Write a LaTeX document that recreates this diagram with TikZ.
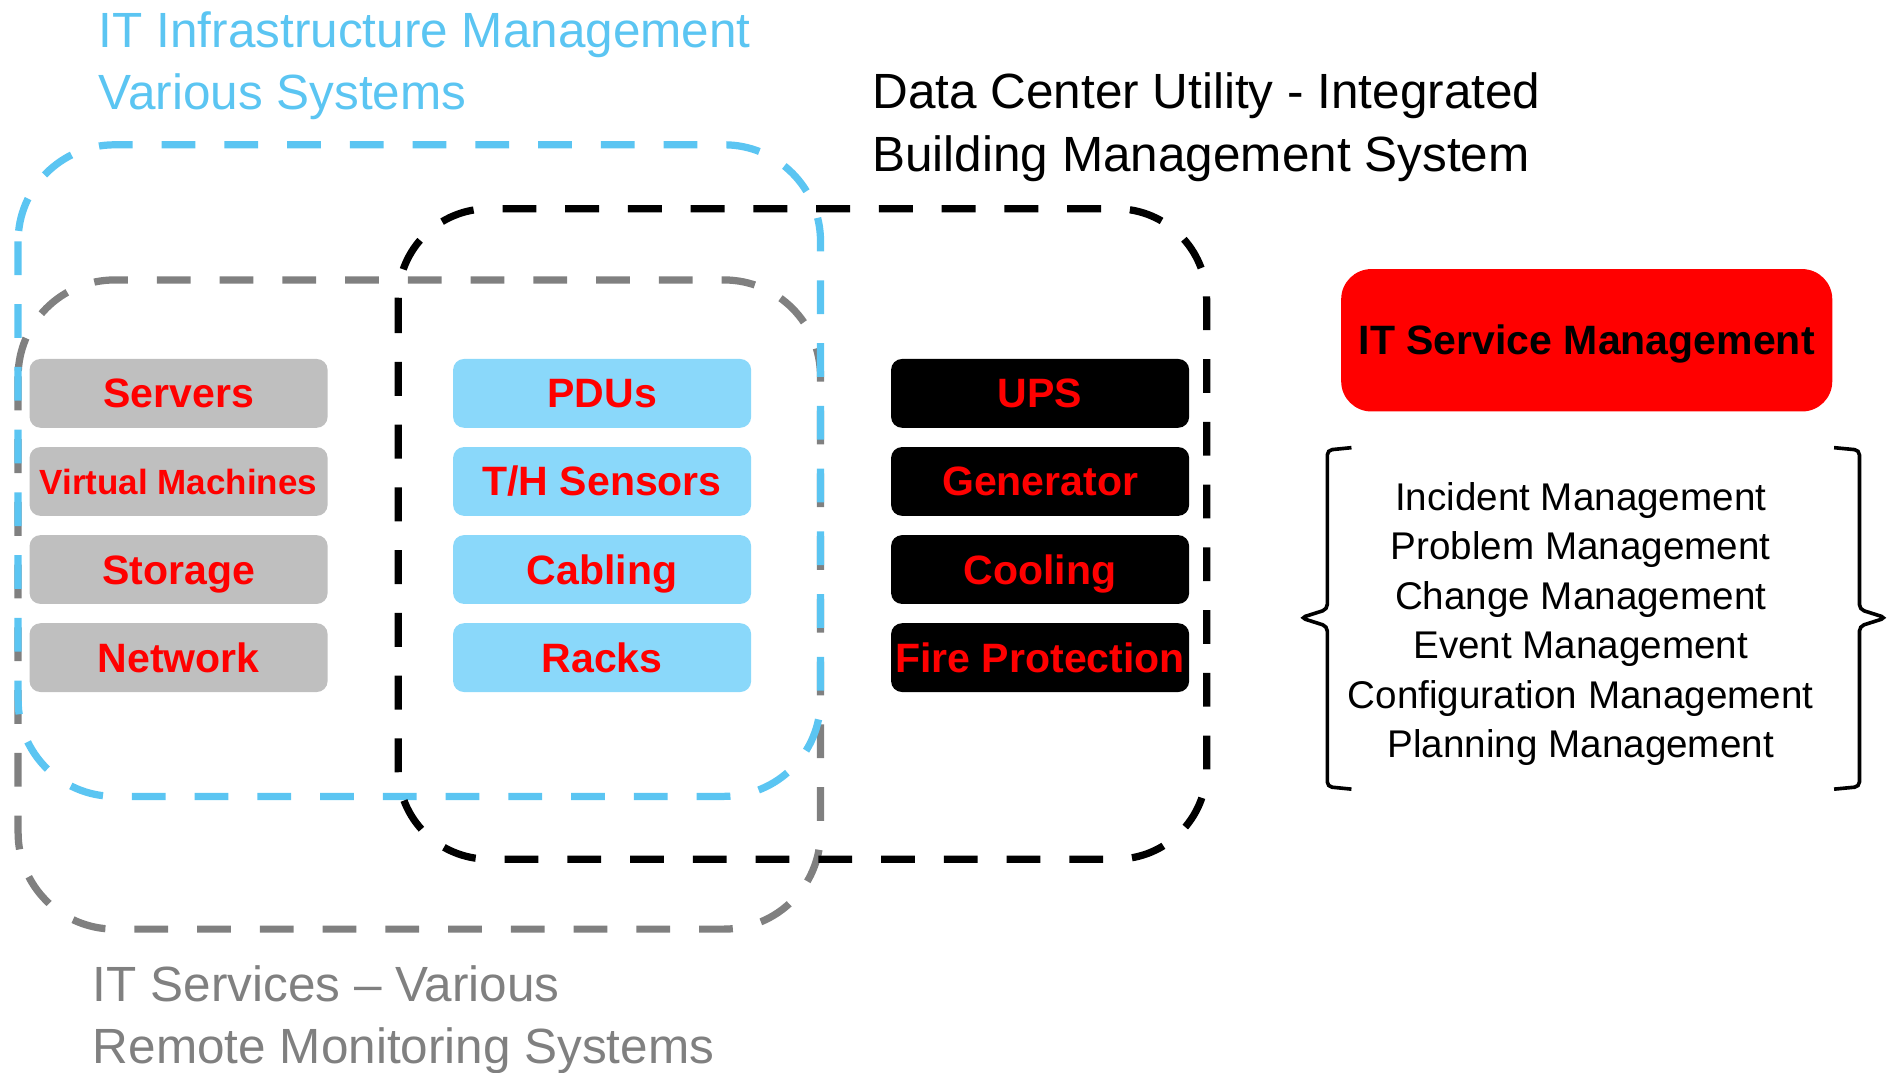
\documentclass[tikz,border=0pt]{standalone}
\usepackage{fontspec}
\setmainfont{Liberation Sans}
\usetikzlibrary{positioning}
\definecolor{infrablue}{RGB}{91,197,242}
\definecolor{rackblue}{RGB}{138,216,250}
\definecolor{svcgray}{RGB}{128,128,128}
\definecolor{boxgray}{RGB}{191,191,191}
\definecolor{itsmred}{RGB}{255,0,0}

\begin{document}
\begin{tikzpicture}[x=1pt,y=-1pt,every node/.style = {inner sep=0pt, outer sep=0pt}]

\tikzstyle{title}=[anchor=base west, font=\fontsize{41}{52}\selectfont]
\tikzstyle{item}=[rectangle, rounded corners=9pt, minimum width=247pt, minimum height=57pt,
                  text height=24pt, text depth=0pt, text=itsmred,
                  font=\fontsize{34}{40}\selectfont\bfseries]
\tikzstyle{zone}=[line width=6pt, dash pattern=on 28pt off 24pt, rounded corners=80pt]

\useasboundingbox (0,0) rectangle (1568,889);

\draw[zone, svcgray] (15,232) rectangle (680,770);
\draw[zone, infrablue] (15,120) rectangle (680,660);
\draw[zone, black, rounded corners=75pt] (330,173) rectangle (1000,712);

\node[title, text=infrablue] (infra1) at (82,39) {IT Infrastructure Management};
\node[title, text=infrablue] (infra2) at (82,91) {Various Systems};
\node[title] (dcu1) at (723,90) {Data Center Utility - Integrated};
\node[title] (dcu2) at (723,142) {Building Management System};
\node[title, text=svcgray] (svc1) at (77,830) {IT Services – Various};
\node[title, text=svcgray] (svc2) at (77,881) {Remote Monitoring Systems};

\node[item, fill=boxgray] (servers) at (148,326) {Servers};
\node[item, fill=boxgray, below=16pt of servers, text height=21pt,
      font=\fontsize{29}{34}\selectfont\bfseries] (vms) {Virtual Machines};
\node[item, fill=boxgray, below=16pt of vms] (storage) {Storage};
\node[item, fill=boxgray, below=16pt of storage] (network) {Network};

\node[item, fill=rackblue] (pdus) at (499,326) {PDUs};
\node[item, fill=rackblue, below=16pt of pdus] (sensors) {T/H Sensors};
\node[item, fill=rackblue, below=16pt of sensors] (cabling) {Cabling};
\node[item, fill=rackblue, below=16pt of cabling] (racks) {Racks};

\node[item, fill=black] (ups) at (862,326) {UPS};
\node[item, fill=black, below=16pt of ups] (generator) {Generator};
\node[item, fill=black, below=16pt of generator] (cooling) {Cooling};
\node[item, fill=black, below=16pt of cooling] (fire) {Fire Protection};

\node[item, fill=itsmred, text=black, minimum width=407pt, minimum height=118pt,
      rounded corners=25pt] (itsm) at (1315,282) {IT Service Management};

\node[font=\fontsize{32}{41}\selectfont, align=center] (itsmlist) at (1310,517)
  {Incident Management\\Problem Management\\Change Management\\Event Management\\
   Configuration Management\\Planning Management};

\draw[line width=3pt, rounded corners=4pt] (1120,371) -- (1100,373) -- (1100,505)
  -- (1078,512) -- (1100,519) -- (1100,652) -- (1120,654);
\draw[line width=3pt, rounded corners=4pt] (1520,371) -- (1541,373) -- (1541,505)
  -- (1563,512) -- (1541,519) -- (1541,652) -- (1520,654);
\end{tikzpicture}
\end{document}
